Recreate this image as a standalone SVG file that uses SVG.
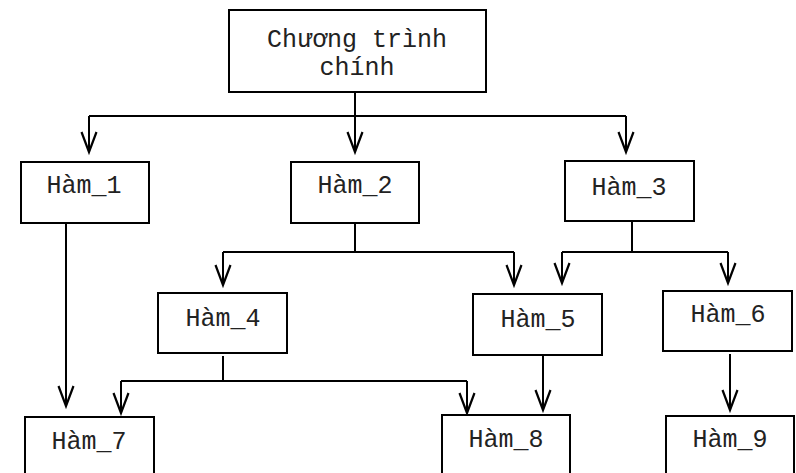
<svg xmlns="http://www.w3.org/2000/svg" width="796" height="473" viewBox="0 0 796 473">
<style>
.box{fill:#fff;stroke:#000;stroke-width:2}
.lbl{font-family:"Liberation Mono","Courier New",monospace;font-size:25px;fill:#222;text-anchor:middle}
.ln{stroke:#000;stroke-width:2;fill:none}
.ar{stroke:#000;stroke-width:2;fill:none;marker-end:url(#arr)}
</style>
<defs>
<marker id="arr" markerUnits="userSpaceOnUse" markerWidth="30" markerHeight="30" refX="0" refY="0" orient="auto" overflow="visible" viewBox="-25 -12 30 24">
<path d="M-20,-7.5 L0,0 L-20,7.5" fill="none" stroke="#000" stroke-width="2.2"/>
</marker>
</defs>
<rect width="796" height="473" fill="#fff"/>
<g id="connectors">
<line class="ar" x1="355" y1="83" x2="355" y2="152"/>
<line class="ln" x1="89" y1="116" x2="626" y2="116"/>
<line class="ar" x1="89" y1="116" x2="89" y2="152"/>
<line class="ar" x1="626" y1="116" x2="626" y2="152"/>
<line class="ar" x1="66" y1="223" x2="66" y2="406"/>
<line class="ln" x1="355" y1="223" x2="355" y2="252"/>
<line class="ln" x1="223" y1="252" x2="514" y2="252"/>
<line class="ar" x1="223" y1="252" x2="223" y2="285"/>
<line class="ar" x1="514" y1="252" x2="514" y2="285"/>
<line class="ln" x1="632" y1="221" x2="632" y2="252"/>
<line class="ln" x1="562" y1="252" x2="728" y2="252"/>
<line class="ar" x1="562" y1="252" x2="562" y2="283"/>
<line class="ar" x1="728" y1="252" x2="728" y2="283"/>
<line class="ln" x1="223" y1="356" x2="223" y2="381"/>
<line class="ln" x1="121" y1="381" x2="467" y2="381"/>
<line class="ar" x1="121" y1="381" x2="121" y2="413"/>
<line class="ar" x1="467" y1="381" x2="467" y2="413"/>
<line class="ar" x1="543" y1="355" x2="543" y2="410"/>
<line class="ar" x1="730" y1="354" x2="730" y2="410"/>
</g>
<g id="main">
<rect class="box" x="229" y="10" width="257" height="82"/>
<text class="lbl" x="357" y="47">Chương trình</text>
<text class="lbl" x="357" y="75">chính</text>
</g>
<g id="ham1"><rect class="box" x="21" y="162" width="128" height="61"/><text class="lbl" x="84" y="193">Hàm_1</text></g>
<g id="ham2"><rect class="box" x="291" y="162" width="128" height="61"/><text class="lbl" x="355" y="193">Hàm_2</text></g>
<g id="ham3"><rect class="box" x="565" y="161" width="129" height="60"/><text class="lbl" x="629" y="195">Hàm_3</text></g>
<g id="ham4"><rect class="box" x="158" y="293" width="129" height="60"/><text class="lbl" x="223" y="326">Hàm_4</text></g>
<g id="ham5"><rect class="box" x="473" y="294" width="129" height="61"/><text class="lbl" x="538" y="327">Hàm_5</text></g>
<g id="ham6"><rect class="box" x="663" y="291" width="129" height="60"/><text class="lbl" x="728" y="322">Hàm_6</text></g>
<g id="ham7"><rect class="box" x="25" y="417" width="129" height="70"/><text class="lbl" x="89" y="449">Hàm_7</text></g>
<g id="ham8"><rect class="box" x="442" y="415" width="128" height="70"/><text class="lbl" x="506" y="447">Hàm_8</text></g>
<g id="ham9"><rect class="box" x="666" y="416" width="128" height="70"/><text class="lbl" x="730" y="447">Hàm_9</text></g>
</svg>
